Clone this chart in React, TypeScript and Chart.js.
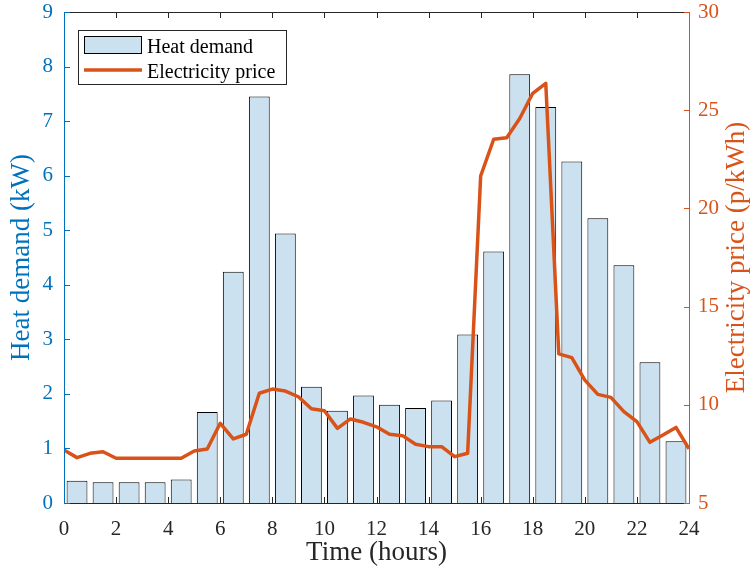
import React, { useEffect, useRef } from 'react';
import { Chart, registerables } from 'chart.js';

Chart.register(...registerables);

// ---- data ----
const barHours = [0.5, 1.5, 2.5, 3.5, 4.5, 5.5, 6.5, 7.5, 8.5, 9.5, 10.5, 11.5, 12.5, 13.5, 14.5, 15.5, 16.5, 17.5, 18.5, 19.5, 20.5, 21.5, 22.5, 23.5];
const heatDemand = [0.41, 0.38, 0.38, 0.38, 0.43, 1.67, 4.24, 7.45, 4.94, 2.13, 1.69, 1.97, 1.8, 1.74, 1.88, 3.09, 4.61, 7.86, 7.26, 6.26, 5.22, 4.36, 2.58, 1.13];

const priceHours = [0, 0.5, 1, 1.5, 2, 2.5, 3, 3.5, 4, 4.5, 5, 5.5, 6, 6.5, 7, 7.5, 8, 8.5, 9, 9.5, 10, 10.5, 11, 11.5, 12, 12.5, 13, 13.5, 14, 14.5, 15, 15.5, 16, 16.5, 17, 17.5, 18, 18.5, 19, 19.5, 20, 20.5, 21, 21.5, 22, 22.5, 23, 23.5, 24];
const electricityPrice = [7.7, 7.31, 7.53, 7.61, 7.28, 7.28, 7.28, 7.28, 7.28, 7.28, 7.65, 7.75, 9.06, 8.26, 8.5, 10.59, 10.8, 10.7, 10.41, 9.8, 9.7, 8.8, 9.28, 9.11, 8.88, 8.5, 8.43, 7.99, 7.87, 7.87, 7.36, 7.53, 21.65, 23.52, 23.6, 24.58, 25.86, 26.37, 12.59, 12.4, 11.26, 10.53, 10.38, 9.65, 9.14, 8.09, 8.46, 8.85, 7.76];

const timeRange = [0, 24];
const timeStep = 2;
const heatRange = [0, 9];
const heatStep = 1;
const priceRange = [5, 30];
const priceStep = 5;

const seriesLabels = ['Heat demand', 'Electricity price'];
const axisTitles = ['Time (hours)', 'Heat demand (kW)', 'Electricity price (p/kWh)'];

// ---- styles ----
const FONT = "'Liberation Serif', 'Times New Roman', serif";
const BLUE = '#0072BD';
const ORANGE = '#D95319';
const DARK = '#262626';
const BAR_FILL = 'rgb(204,225,240)';
const TITLE_SIZE = 27;

const framePlugin = {
  id: 'frameTicks',
  afterDatasetsDraw(chart: any) {
    const { ctx, chartArea, scales } = chart;
    const { left, right, top, bottom } = chartArea;
    const tl = 6;
    ctx.save();
    ctx.lineWidth = 1;
    // x ticks + top/bottom lines
    ctx.strokeStyle = DARK;
    ctx.beginPath();
    scales.x.ticks.forEach((t: any) => {
      const px = Math.round(scales.x.getPixelForValue(t.value)) + 0.5;
      ctx.moveTo(px, bottom);
      ctx.lineTo(px, bottom - tl);
      ctx.moveTo(px, top);
      ctx.lineTo(px, top + tl);
    });
    ctx.moveTo(left, top + 0.5);
    ctx.lineTo(right + 1, top + 0.5);
    ctx.moveTo(left, bottom + 0.5);
    ctx.lineTo(right + 1, bottom + 0.5);
    ctx.stroke();
    // left axis
    ctx.strokeStyle = BLUE;
    ctx.beginPath();
    ctx.moveTo(left + 0.5, top);
    ctx.lineTo(left + 0.5, bottom + 1);
    scales.y.ticks.forEach((t: any) => {
      const py = Math.round(scales.y.getPixelForValue(t.value)) + 0.5;
      ctx.moveTo(left, py);
      ctx.lineTo(left + tl, py);
    });
    ctx.stroke();
    // right axis
    ctx.strokeStyle = ORANGE;
    ctx.beginPath();
    ctx.moveTo(right + 0.5, top);
    ctx.lineTo(right + 0.5, bottom + 1);
    scales.y1.ticks.forEach((t: any) => {
      const py = Math.round(scales.y1.getPixelForValue(t.value)) + 0.5;
      ctx.moveTo(right + 1, py);
      ctx.lineTo(right + 1 - tl, py);
    });
    ctx.stroke();
    ctx.restore();
  },
  afterDraw(chart: any) {
    const { ctx, chartArea } = chart;
    const ds = chart.data.datasets;
    ctx.save();
    // right axis title, reading upward
    ctx.font = `${TITLE_SIZE}px ${FONT}`;
    ctx.fillStyle = ORANGE;
    ctx.textAlign = 'center';
    ctx.textBaseline = 'middle';
    ctx.translate(737, (chartArea.top + chartArea.bottom) / 2);
    ctx.rotate(-Math.PI / 2);
    ctx.fillText(axisTitles[2], 0, 0);
    ctx.restore();

    // legend box
    ctx.save();
    const bx = chartArea.left + 14;
    const by = chartArea.top + 18;
    ctx.fillStyle = '#ffffff';
    ctx.fillRect(bx, by, 209, 55);
    ctx.strokeStyle = DARK;
    ctx.lineWidth = 1;
    ctx.strokeRect(bx + 0.5, by + 0.5, 208, 54);
    // bar swatch
    ctx.fillStyle = ds[0].backgroundColor;
    ctx.fillRect(bx + 6, by + 6, 58, 18);
    ctx.strokeStyle = ds[0].borderColor;
    ctx.strokeRect(bx + 6.5, by + 6.5, 57, 17);
    // line swatch
    ctx.strokeStyle = ds[1].borderColor;
    ctx.lineWidth = ds[1].borderWidth;
    ctx.beginPath();
    ctx.moveTo(bx + 6, by + 40);
    ctx.lineTo(bx + 64, by + 40);
    ctx.stroke();
    ctx.font = `20px ${FONT}`;
    ctx.fillStyle = '#000000';
    ctx.textAlign = 'left';
    ctx.textBaseline = 'alphabetic';
    ctx.fillText(ds[0].label, bx + 69, by + 23);
    ctx.fillText(ds[1].label, bx + 69, by + 47.5);
    ctx.restore();
  },
};

export default function App() {
  const ref = useRef<HTMLCanvasElement>(null);
  useEffect(() => {
    document.body.style.margin = '0';
    const chart = new Chart(ref.current as HTMLCanvasElement, {
      type: 'bar',
      data: {
        datasets: [
          {
            type: 'bar',
            label: seriesLabels[0],
            data: barHours.map((h, i) => ({ x: h, y: heatDemand[i] })),
            backgroundColor: BAR_FILL,
            borderColor: '#000000',
            borderWidth: 1,
            barPercentage: 0.8,
            categoryPercentage: 1,
            xAxisID: 'x',
            yAxisID: 'y',
            order: 2,
          },
          {
            type: 'line',
            label: seriesLabels[1],
            data: priceHours.map((h, i) => ({ x: h, y: electricityPrice[i] })),
            borderColor: ORANGE,
            backgroundColor: ORANGE,
            borderWidth: 3.5,
            pointRadius: 0,
            borderJoinStyle: 'round',
            borderCapStyle: 'butt',
            tension: 0,
            xAxisID: 'x',
            yAxisID: 'y1',
            order: 1,
          } as any,
        ],
      },
      plugins: [framePlugin],
      options: {
        animation: false,
        responsive: false,
        devicePixelRatio: 1,
        layout: { padding: { top: 12, left: 0, right: 0, bottom: 0 } },
        plugins: {
          legend: { display: false },
          tooltip: { enabled: false },
        },
        scales: {
          x: {
            type: 'linear',
            position: 'bottom',
            min: timeRange[0],
            max: timeRange[1],
            offset: false,
            grid: { display: false, drawTicks: false, offset: false },
            border: { display: false },
            ticks: {
              stepSize: timeStep,
              color: DARK,
              padding: 16,
              maxRotation: 0,
              autoSkip: false,
              font: { family: FONT, size: 21, lineHeight: 1 },
            },
            title: {
              display: true,
              text: axisTitles[0],
              color: DARK,
              font: { family: FONT, size: TITLE_SIZE, lineHeight: 1 },
              padding: { top: 0, bottom: 8 },
            },
            afterFit: (s: any) => {
              s.height = 71;
              s.paddingLeft = 0;
              s.paddingRight = 0;
            },
          },
          y: {
            type: 'linear',
            position: 'left',
            min: heatRange[0],
            max: heatRange[1],
            grid: { display: false, drawTicks: false },
            border: { display: false },
            ticks: {
              stepSize: heatStep,
              color: BLUE,
              padding: 11,
              font: { family: FONT, size: 21, lineHeight: 1 },
            },
            title: {
              display: true,
              text: axisTitles[1],
              color: BLUE,
              font: { family: FONT, size: TITLE_SIZE, lineHeight: 1 },
              padding: { top: 8, bottom: 0 },
            },
            afterFit: (s: any) => {
              s.width = 64;
              s.paddingTop = 0;
              s.paddingBottom = 0;
            },
          },
          y1: {
            type: 'linear',
            position: 'right',
            min: priceRange[0],
            max: priceRange[1],
            grid: { display: false, drawTicks: false },
            border: { display: false },
            ticks: {
              stepSize: priceStep,
              color: ORANGE,
              padding: 9,
              font: { family: FONT, size: 21, lineHeight: 1 },
            },
            title: { display: false },
            afterFit: (s: any) => {
              s.width = 64;
              s.paddingTop = 0;
              s.paddingBottom = 0;
            },
          },
        },
      } as any,
    });
    return () => chart.destroy();
  }, []);
  return (
    <canvas
      ref={ref}
      width={753}
      height={574}
      style={{ display: 'block', width: 753, height: 574 }}
    />
  );
}
